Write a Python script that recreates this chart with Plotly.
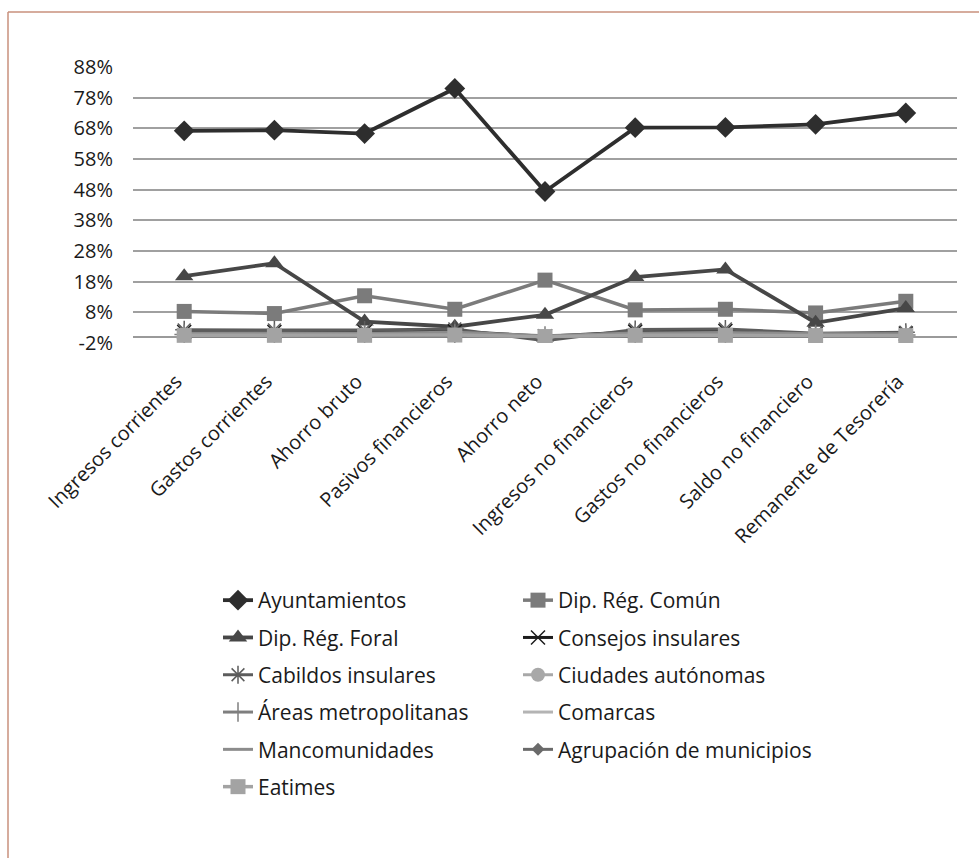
import plotly.graph_objects as go

# Categories along the horizontal axis
categories = [
    "Ingresos corrientes", "Gastos corrientes", "Ahorro bruto",
    "Pasivos financieros", "Ahorro neto", "Ingresos no financieros",
    "Gastos no financieros", "Saldo no financiero", "Remanente de Tesorería",
]

# Share (%) of each type of local entity
ayuntamientos = [67.2, 67.4, 66.3, 81.0, 47.4, 68.2, 68.3, 69.3, 73.0]
dip_reg_comun = [8.3, 7.6, 13.4, 9.0, 18.5, 8.8, 9.0, 7.8, 11.6]
dip_reg_foral = [19.8, 24.0, 5.0, 3.3, 7.2, 19.5, 22.0, 4.6, 9.4]
consejos_insulares = [1.6, 1.6, 1.6, 1.8, 0.2, 1.7, 1.9, 1.0, 1.1]
cabildos_insulares = [2.3, 2.3, 2.2, 2.6, -1.3, 2.4, 2.6, 1.2, 1.5]
ciudades_autonomas = [0.6, 0.6, 0.6, 0.7, 0.2, 0.6, 0.6, 0.5, 0.5]
areas_metropolitanas = [0.8, 0.8, 0.7, 0.9, 0.3, 0.8, 0.8, 0.6, 0.6]
comarcas = [0.7, 0.7, 0.6, 0.8, 0.2, 0.7, 0.7, 0.5, 0.5]
mancomunidades = [1.3, 1.3, 1.2, 1.5, 0.4, 1.3, 1.4, 1.0, 1.0]
agrupacion_municipios = [0.3, 0.3, 0.3, 0.3, 0.1, 0.3, 0.3, 0.2, 0.2]
eatimes = [0.5, 0.5, 0.5, 0.6, 0.1, 0.5, 0.5, 0.4, 0.4]

# Y axis ticks
y_tickvals = [-2, 8, 18, 28, 38, 48, 58, 68, 78, 88]
y_ticktext = ["-2%", "8%", "18%", "28%", "38%", "48%", "58%", "68%", "78%", "88%"]

FONT = "Open Sans"

# name, values, colour, line width, marker symbol, marker size, legend column
series = [
    ("Ayuntamientos", ayuntamientos, "#2e2e2e", 3.8, "diamond", 16, "legend"),
    ("Dip. Rég. Común", dip_reg_comun, "#7b7b7b", 3.5, "square", 15, "legend2"),
    ("Dip. Rég. Foral", dip_reg_foral, "#474747", 3.8, "triangle-up", 16, "legend"),
    ("Consejos insulares", consejos_insulares, "#1c1c1c", 3.0, "x-thin-open", 14, "legend2"),
    ("Cabildos insulares", cabildos_insulares, "#5c5c5c", 3.0, "asterisk-open", 15, "legend"),
    ("Ciudades autónomas", ciudades_autonomas, "#a8a8a8", 3.0, "circle", 14, "legend2"),
    ("Áreas metropolitanas", areas_metropolitanas, "#7f7f7f", 3.0, "cross-thin-open", 14, "legend"),
    ("Comarcas", comarcas, "#b4b4b4", 3.0, None, 0, "legend2"),
    ("Mancomunidades", mancomunidades, "#8c8c8c", 3.0, None, 0, "legend"),
    ("Agrupación de municipios", agrupacion_municipios, "#6a6a6a", 3.0, "diamond", 10, "legend2"),
    ("Eatimes", eatimes, "#a3a3a3", 3.5, "square", 15, "legend"),
]

fig = go.Figure()
for name, vals, color, lw, sym, size, leg in series:
    kw = dict(
        x=categories, y=vals, name=name, legend=leg, legendgroup=name,
        line=dict(color=color, width=lw),
        hoverinfo="x+y+name",
    )
    if sym is None:
        kw["mode"] = "lines"
    else:
        kw["mode"] = "lines+markers"
        mk = dict(symbol=sym, size=size, color=color)
        if sym.endswith("-open"):
            mk["line"] = dict(color=color, width=1.5)
        kw["marker"] = mk
    fig.add_trace(go.Scatter(**kw))

W, H = 979, 858
ML, MR, MT, MB = 133, 22, 67, 515
pw, ph = W - ML - MR, H - MT - MB


def px_x(p):
    return (p - ML) / pw


def px_y(p):
    return (H - MB - p) / ph


legend_font = dict(family=FONT, size=21, color="#1a1a1a")

fig.update_layout(
    width=W, height=H,
    margin=dict(l=ML, r=MR, t=MT, b=MB),
    paper_bgcolor="white", plot_bgcolor="white",
    font=dict(family=FONT, size=20, color="#1a1a1a"),
    showlegend=True,
    legend=dict(
        x=px_x(218), y=px_y(580), xanchor="left", yanchor="top",
        orientation="v", font=legend_font, tracegroupgap=7,
        bgcolor="rgba(0,0,0,0)",
    ),
    legend2=dict(
        x=px_x(518), y=px_y(580), xanchor="left", yanchor="top",
        orientation="v", font=legend_font, tracegroupgap=7,
        bgcolor="rgba(0,0,0,0)",
    ),
    xaxis=dict(
        type="category", tickangle=-45, showgrid=False, showline=False,
        ticks="", ticklabelstandoff=22, ticklabelshift=-8,
        tickfont=dict(family=FONT, size=20, color="#1a1a1a"),
    ),
    yaxis=dict(
        range=[-2, 88], tickvals=y_tickvals, ticktext=y_ticktext,
        showgrid=True, gridcolor="#a0a0a0", gridwidth=1.5,
        zeroline=True, zerolinecolor="#9a9a9a", zerolinewidth=1.5,
        showline=False, ticks="", ticklabelstandoff=19,
        tickfont=dict(family=FONT, size=20, color="#1a1a1a"),
    ),
    shapes=[
        dict(type="line", xref="paper", yref="paper",
             x0=px_x(8), x1=px_x(985), y0=px_y(12), y1=px_y(12),
             line=dict(color="#c8907c", width=1.5)),
        dict(type="line", xref="paper", yref="paper",
             x0=px_x(8), x1=px_x(8), y0=px_y(12), y1=px_y(870),
             line=dict(color="#c8907c", width=1.5)),
    ],
)

fig.write_html("out.html")
